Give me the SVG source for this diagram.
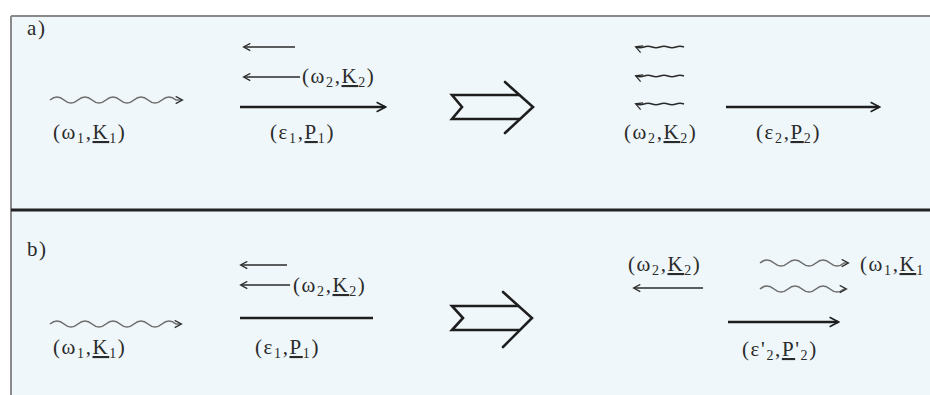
<svg xmlns="http://www.w3.org/2000/svg" width="930" height="395" viewBox="0 0 930 395">
<style>
.t{font-family:"Liberation Serif","Times New Roman",serif;font-size:21px;fill:#2a2a2a;letter-spacing:1.6px}
.s{font-size:14px}
.u{text-decoration:underline}
.ln{fill:none;stroke:#2a2a2a;stroke-width:1.5}
.thick{fill:none;stroke:#1e1e1e;stroke-width:2.6}
.wave{fill:none;stroke:#6e6e6e;stroke-width:1.6}
.dbl{fill:none;stroke:#1e1e1e;stroke-width:2.6;stroke-linejoin:miter;stroke-linecap:round}
</style>
<defs>
<marker id="ah" viewBox="0 0 10 10" refX="8" refY="5" markerWidth="9" markerHeight="9" markerUnits="userSpaceOnUse" orient="auto-start-reverse">
<path d="M1,1 L8.5,5 L1,9" fill="none" stroke="#2a2a2a" stroke-width="1.4"/>
</marker>
<marker id="ahb" viewBox="0 0 10 10" refX="8" refY="5" markerWidth="12" markerHeight="12" markerUnits="userSpaceOnUse" orient="auto-start-reverse">
<path d="M1,1 L8.5,5 L1,9" fill="none" stroke="#1e1e1e" stroke-width="1.3"/>
</marker>
</defs>
<rect x="0" y="0" width="930" height="395" fill="#ffffff"/>
<rect x="11" y="16" width="919" height="379" fill="#eff7fa"/>
<line x1="11" y1="16" x2="930" y2="16" stroke="#8a8a8a" stroke-width="2"/>
<line x1="11" y1="16" x2="11" y2="395" stroke="#8a8a8a" stroke-width="2"/>
<line x1="11" y1="210" x2="930" y2="210" stroke="#222" stroke-width="3"/>

<g id="label-a"><text class="t" x="27" y="35">a)</text></g>
<g id="label-b"><text class="t" x="27" y="256">b)</text></g>

<g id="connectors">
<!-- panel a -->
<path class="wave" marker-end="url(#ah)" d="M50,100 q7,-6 14,0 t14,0 t14,0 t14,0 t14,0 t14,0 t14,0 t14,0 t14,0 l6,0"/>
<line class="ln" x1="295" y1="47" x2="244" y2="47" marker-end="url(#ah)"/>
<line class="ln" x1="300" y1="77" x2="244" y2="77" marker-end="url(#ah)"/>
<line class="thick" x1="240" y1="107" x2="385" y2="107" marker-end="url(#ahb)"/>
<path class="ln" marker-end="url(#ah)" d="M684,47 q-4,-1.5 -8,0 t-8,0 t-8,0 t-8,0 t-8,0 t-8,0"/>
<path class="ln" marker-end="url(#ah)" d="M684,76 q-4,-1.5 -8,0 t-8,0 t-8,0 t-8,0 t-8,0 t-8,0"/>
<path class="ln" marker-end="url(#ah)" d="M684,104 q-4,-1.5 -8,0 t-8,0 t-8,0 t-8,0 t-8,0 t-8,0"/>
<line class="thick" x1="726" y1="107" x2="879" y2="107" marker-end="url(#ahb)"/>
<!-- panel b -->
<path class="wave" marker-end="url(#ah)" d="M50,324 q7,-6 14,0 t14,0 t14,0 t14,0 t14,0 t14,0 t14,0 t14,0 t14,0 l5,0"/>
<line class="ln" x1="287" y1="265" x2="241" y2="265" marker-end="url(#ah)"/>
<line class="ln" x1="290" y1="285" x2="241" y2="285" marker-end="url(#ah)"/>
<line class="thick" x1="240" y1="318" x2="373" y2="318"/>
<line class="ln" x1="703" y1="288" x2="634" y2="288" marker-end="url(#ah)"/>
<path class="wave" marker-end="url(#ah)" d="M760,263 q7,-6 14,0 t14,0 t14,0 t14,0 t14,0 t14,0 l4,0"/>
<path class="wave" marker-end="url(#ah)" d="M760,289 q7,-6 14,0 t14,0 t14,0 t14,0 t14,0 t14,0 l2,0"/>
<line class="thick" x1="728" y1="322" x2="838" y2="322" marker-end="url(#ahb)"/>
</g>

<g id="implies-a">
<path class="dbl" d="M505,82 L533,107 L505,133"/>
<path class="dbl" d="M519,95 L452,95 L462,107 L452,119 L520,119"/>
</g>
<g id="implies-b">
<path class="dbl" d="M503,292 L532,318 L503,347"/>
<path class="dbl" d="M518,306 L452,306 L463,318 L452,330 L519,330"/>
</g>

<g id="a-photon1"><text class="t" x="53" y="139">(ω<tspan class="s" dy="4">1</tspan><tspan dy="-4">,</tspan><tspan class="u">K</tspan><tspan class="s" dy="4">1</tspan><tspan dy="-4">)</tspan></text></g>
<g id="a-photon2"><text class="t" x="302" y="83">(ω<tspan class="s" dy="4">2</tspan><tspan dy="-4">,</tspan><tspan class="u">K</tspan><tspan class="s" dy="4">2</tspan><tspan dy="-4">)</tspan></text></g>
<g id="a-electron1"><text class="t" x="270" y="139">(ε<tspan class="s" dy="4">1</tspan><tspan dy="-4">,</tspan><tspan class="u">P</tspan><tspan class="s" dy="4">1</tspan><tspan dy="-4">)</tspan></text></g>
<g id="a-photon2-out"><text class="t" x="624" y="139">(ω<tspan class="s" dy="4">2</tspan><tspan dy="-4">,</tspan><tspan class="u">K</tspan><tspan class="s" dy="4">2</tspan><tspan dy="-4">)</tspan></text></g>
<g id="a-electron2"><text class="t" x="756" y="139">(ε<tspan class="s" dy="4">2</tspan><tspan dy="-4">,</tspan><tspan class="u">P</tspan><tspan class="s" dy="4">2</tspan><tspan dy="-4">)</tspan></text></g>

<g id="b-photon1"><text class="t" x="53" y="354">(ω<tspan class="s" dy="4">1</tspan><tspan dy="-4">,</tspan><tspan class="u">K</tspan><tspan class="s" dy="4">1</tspan><tspan dy="-4">)</tspan></text></g>
<g id="b-photon2"><text class="t" x="293" y="292">(ω<tspan class="s" dy="4">2</tspan><tspan dy="-4">,</tspan><tspan class="u">K</tspan><tspan class="s" dy="4">2</tspan><tspan dy="-4">)</tspan></text></g>
<g id="b-electron1"><text class="t" x="255" y="354">(ε<tspan class="s" dy="4">1</tspan><tspan dy="-4">,</tspan><tspan class="u">P</tspan><tspan class="s" dy="4">1</tspan><tspan dy="-4">)</tspan></text></g>
<g id="b-photon2-out"><text class="t" x="628" y="271">(ω<tspan class="s" dy="4">2</tspan><tspan dy="-4">,</tspan><tspan class="u">K</tspan><tspan class="s" dy="4">2</tspan><tspan dy="-4">)</tspan></text></g>
<g id="b-photon1-out"><text class="t" x="860" y="271">(ω<tspan class="s" dy="4">1</tspan><tspan dy="-4">,</tspan><tspan class="u">K</tspan><tspan class="s" dy="4">1</tspan></text></g>
<g id="b-electron2"><text class="t" x="742" y="356">(ε'<tspan class="s" dy="4">2</tspan><tspan dy="-4">,</tspan><tspan class="u">P</tspan>'<tspan class="s" dy="4">2</tspan><tspan dy="-4">)</tspan></text></g>
</svg>
